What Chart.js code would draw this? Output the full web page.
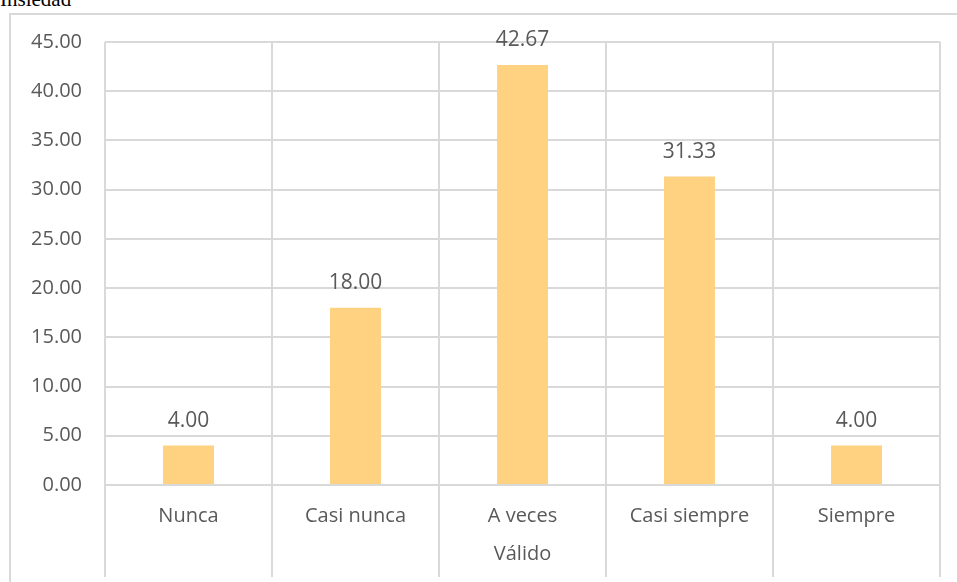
<!DOCTYPE html>
<html>
<head>
<meta charset="utf-8">
<script src="https://cdn.jsdelivr.net/npm/chart.js@4.4.1/dist/chart.umd.min.js"></script>
<style>
    body { margin: 0; background: #fff; overflow: hidden; }
    #wrap { position: relative; width: 957px; height: 582px; }
    #caption { position: absolute; left: 0; top: -13px; font: 21px "Liberation Serif", serif; color: #000; }
    #frame { position: absolute; left: 9px; top: 13px; width: 960px; height: 600px; border: 2px solid #d9d9d9; }
    #chart { position: absolute; left: 0; top: 0; }
</style>
</head>
<body>
<div id="wrap">
    <div id="caption">Insiedad</div>
    <div id="frame"></div>
    <canvas id="chart" width="957" height="582"></canvas>
</div>
<script>
const categories = ['Nunca', 'Casi nunca', 'A veces', 'Casi siempre', 'Siempre'];
const percentages = [4.00, 18.00, 42.67, 31.33, 4.00];
const groupLabel = 'Válido';

const gridColor = '#d9d9d9';
const textColor = '#595959';
const fontFamily = '"Open Sans", sans-serif';

// draws the value above each bar
const valueLabels = {
    id: 'valueLabels',
    afterDatasetsDraw(chart) {
        const ctx = chart.ctx;
        const meta = chart.getDatasetMeta(0);
        ctx.save();
        ctx.fillStyle = textColor;
        ctx.font = '21px ' + fontFamily;
        ctx.textAlign = 'center';
        ctx.textBaseline = 'alphabetic';
        meta.data.forEach((bar, i) => {
            ctx.fillText(percentages[i].toFixed(2), bar.x, bar.y - 19);
        });
        ctx.restore();
    }
};

new Chart(document.getElementById('chart').getContext('2d'), {
    type: 'bar',
    data: {
        labels: categories,
        datasets: [{
            data: percentages,
            backgroundColor: '#ffd281',
            borderWidth: 0,
            categoryPercentage: 1,
            barPercentage: 0.305
        }]
    },
    options: {
        responsive: false,
        animation: false,
        layout: { padding: { left: 0, top: 42, right: 17, bottom: 0 } },
        plugins: { legend: { display: false }, tooltip: { enabled: false } },
        scales: {
            x: {
                afterFit: scale => { scale.height = 97; },
                border: { display: false },
                grid: { offset: true, color: gridColor, lineWidth: 2, drawTicks: true, tickLength: 92 },
                ticks: { color: textColor, font: { family: fontFamily, size: 20 }, padding: -73 },
                title: { display: true, text: groupLabel, color: textColor, font: { family: fontFamily, size: 20 }, padding: { top: 0, bottom: 16 } }
            },
            y: {
                min: 0,
                max: 45,
                afterFit: scale => { scale.width = 105; },
                border: { display: false },
                grid: { color: gridColor, lineWidth: 2, drawTicks: false },
                ticks: {
                    stepSize: 5,
                    color: textColor,
                    font: { family: fontFamily, size: 20 },
                    padding: 23,
                    callback: v => v.toFixed(2)
                }
            }
        }
    },
    plugins: [valueLabels]
});
</script>
</body>
</html>
